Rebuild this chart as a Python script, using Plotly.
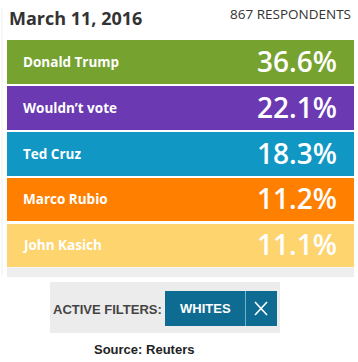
import plotly.graph_objects as go

# ---- data ----
categories = ["Donald Trump", "Wouldn\u2019t vote", "Ted Cruz", "Marco Rubio", "John Kasich"]
values = [36.6, 22.1, 18.3, 11.2, 11.1]
bar_colors = ["#76a22f", "#6b3ab2", "#1097c4", "#ff8000", "#fed46f"]
title_text = "March 11, 2016"
respondents_text = "867 RESPONDENTS"
filter_label = "ACTIVE FILTERS:"
filter_value = "WHITES"
source_text = "Source: Reuters"

W, H = 358, 362


def px_x(p):
    return p / W


def px_y(p):
    return 1 - p / H


n = len(categories)
full = [1] * n  # every row spans the full card width

fig = go.Figure()
fig.add_trace(go.Bar(
    y=categories, x=full, orientation="h",
    marker=dict(color=bar_colors, line=dict(width=0)),
    width=0.945, hoverinfo="skip", showlegend=False,
))

annotations = []
for c, v in zip(categories, values):
    annotations.append(dict(
        x=0, y=c, xref="x", yref="y", text="<b>%s</b>" % c, showarrow=False,
        xanchor="left", yanchor="middle", xshift=14,
        font=dict(family="Open Sans", size=13.5, color="white"),
    ))
    annotations.append(dict(
        x=1, y=c, xref="x", yref="y", text="%.1f%%" % v, showarrow=False,
        xanchor="right", yanchor="middle", xshift=-15, yshift=1,
        font=dict(family="Open Sans", size=28, color="white", weight=600),
    ))

annotations += [
    dict(x=px_x(7), y=px_y(18), xref="paper", yref="paper", text="<b>%s</b>" % title_text,
         showarrow=False, xanchor="left", yanchor="middle",
         font=dict(family="Open Sans", size=18, color="#333333")),
    dict(x=px_x(353), y=px_y(14), xref="paper", yref="paper", text=respondents_text,
         showarrow=False, xanchor="right", yanchor="middle",
         font=dict(family="Open Sans", size=13.5, color="#333333")),
    dict(x=px_x(107), y=px_y(309), xref="paper", yref="paper", text="<b>%s</b>" % filter_label,
         showarrow=False, xanchor="center", yanchor="middle",
         font=dict(family="Liberation Sans Narrow, Liberation Sans", size=13, color="#444444")),
    dict(x=px_x(205), y=px_y(308), xref="paper", yref="paper", text="<b>%s</b>" % filter_value,
         showarrow=False, xanchor="center", yanchor="middle",
         font=dict(family="Liberation Sans Narrow, Liberation Sans", size=13, color="white")),
    dict(x=px_x(144), y=px_y(349), xref="paper", yref="paper", text="<b>%s</b>" % source_text,
         showarrow=False, xanchor="center", yanchor="middle",
         font=dict(family="Liberation Sans", size=13, color="#222222")),
]

shapes = [
    # faint left rule
    dict(type="line", xref="paper", yref="paper", x0=px_x(2), x1=px_x(2), y0=px_y(8), y1=px_y(275),
         line=dict(color="#efefef", width=1)),
    # light grey strip under last bar
    dict(type="rect", xref="paper", yref="paper", x0=px_x(7), x1=px_x(354), y0=px_y(277), y1=px_y(267.5),
         fillcolor="#eeeeee", line=dict(width=0), layer="below"),
    # active filter box
    dict(type="rect", xref="paper", yref="paper", x0=px_x(50), x1=px_x(280), y0=px_y(333), y1=px_y(282),
         fillcolor="#ececec", line=dict(width=0)),
    dict(type="rect", xref="paper", yref="paper", x0=px_x(165), x1=px_x(277), y0=px_y(326), y1=px_y(291),
         fillcolor="#0e6c92", line=dict(width=0)),
    dict(type="line", xref="paper", yref="paper", x0=px_x(245.5), x1=px_x(245.5), y0=px_y(326), y1=px_y(291),
         line=dict(color="#6fb3d0", width=1)),
    # the "X" close glyph
    dict(type="line", xref="paper", yref="paper", x0=px_x(255), x1=px_x(267), y0=px_y(302), y1=px_y(315),
         line=dict(color="white", width=1.6)),
    dict(type="line", xref="paper", yref="paper", x0=px_x(255), x1=px_x(267), y0=px_y(315), y1=px_y(302),
         line=dict(color="white", width=1.6)),
]

fig.update_layout(
    width=W, height=H, margin=dict(l=0, r=0, t=0, b=0),
    paper_bgcolor="white", plot_bgcolor="white",
    xaxis=dict(domain=[px_x(7), px_x(354)], range=[0, 1], visible=False, fixedrange=True),
    yaxis=dict(domain=[px_y(268.3), px_y(38.7)], range=[n - 0.5, -0.5], visible=False,
               categoryorder="array", categoryarray=categories, fixedrange=True),
    annotations=annotations, shapes=shapes, bargap=0,
)

fig.write_html("out.html", config={"displayModeBar": False})
